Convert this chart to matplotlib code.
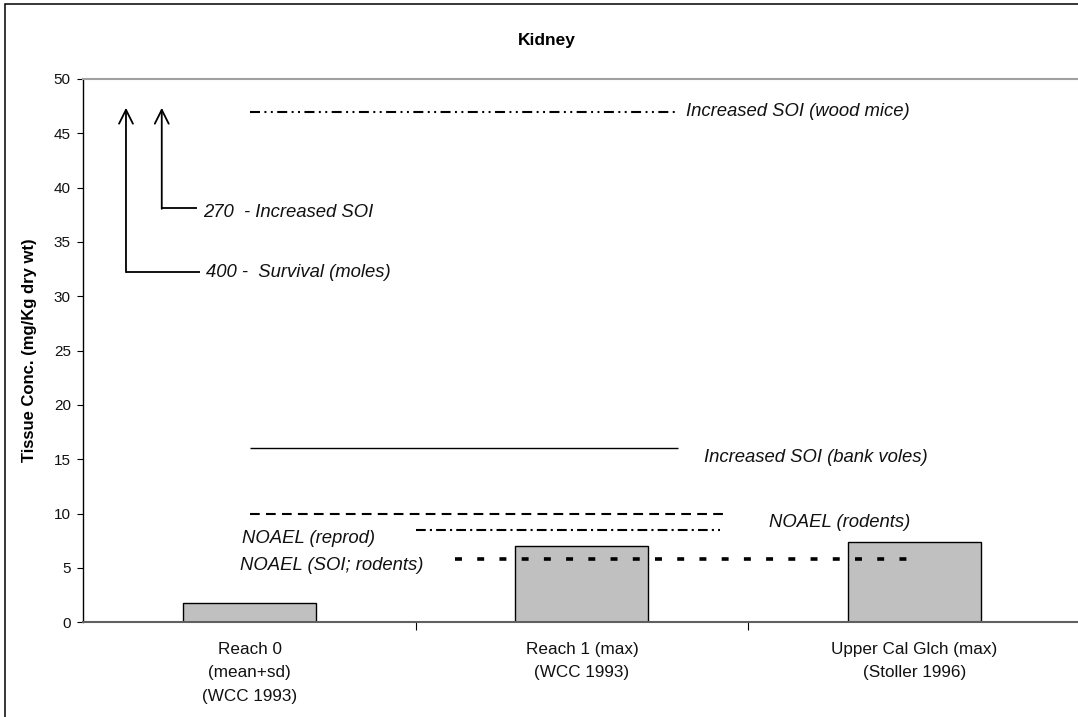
import matplotlib
matplotlib.use("Agg")
import matplotlib.pyplot as plt
from matplotlib.patches import Rectangle

plt.rcParams['font.family'] = ['Liberation Sans', 'DejaVu Sans']
plt.rcParams['lines.scale_dashes'] = False

# Measured kidney concentrations per site
categories = ["Reach 0\n(mean+sd)\n(WCC 1993)",
              "Reach 1 (max)\n(WCC 1993)",
              "Upper Cal Glch (max)\n(Stoller 1996)"]
tissue_conc = [1.75, 7.0, 7.35]

# Effect benchmark levels (mg/Kg dry wt)
benchmark_levels = [47.0, 16.0, 10.0, 8.5, 5.8]
benchmark_labels = ["Increased SOI (wood mice)",
                    "Increased SOI (bank voles)",
                    "NOAEL (reprod)",
                    "NOAEL (rodents)",
                    "NOAEL (SOI; rodents)"]

# Off-scale benchmarks shown as arrows
offscale_labels = ["400 -  Survival (moles)", "270  - Increased SOI"]

y_ticks = list(range(0, 51, 5))

W, H = 1078, 717
fig = plt.figure(figsize=(W / 100, H / 100), dpi=100)

# outer chart border
fig.patches.append(Rectangle((5 / W, -0.2), 1.3, 1.2 - 4 / H, transform=fig.transFigure,
                             fill=False, edgecolor='black', linewidth=1.1, zorder=0))

ax_left, ax_right = 83.3 / W, 1080.6 / W
ax_top, ax_bottom = 1 - 79 / H, 1 - 622.3 / H
ax = fig.add_axes([ax_left, ax_bottom, ax_right - ax_left, ax_top - ax_bottom])

x = list(range(len(categories)))
ax.bar(x, tissue_conc, width=0.4, color='#c0c0c0', edgecolor='black', linewidth=1.0, zorder=2)

ax.set_xlim(-0.5, 2.5)
ax.set_ylim(0, 50)

# benchmark lines: (x start, x end, style, width)
line_specs = [
    (0.0, 1.285, (0, (7.2, 3.2, 1.4, 3.2, 1.4, 3.2)), 1.5),
    (0.0, 1.289, '-', 1.0),
    (0.0, 1.424, (0, (7.0, 4.5)), 1.5),
    (0.5, 1.415, (0, (7.0, 3.0, 1.5, 3.0)), 1.5),
    (0.618, 1.99, (0, (5.0, 11.0)), 2.6),
]
for level, (x0, x1, ls, lw) in zip(benchmark_levels, line_specs):
    ax.plot([x0, x1], [level, level], color='black', linestyle=ls, linewidth=lw,
            solid_capstyle='butt', dash_capstyle='butt', zorder=3)

ann = dict(fontsize=13.3, style='italic', color='#111111', ha='left', va='center')
ax.text(1.313, 46.97, benchmark_labels[0], **ann)
ax.text(1.366, 15.2, benchmark_labels[1], **ann)
ax.text(-0.023, 7.67, benchmark_labels[2], **ann)
ax.text(1.563, 9.23, benchmark_labels[3], **ann)
ax.text(-0.029, 5.21, benchmark_labels[4], **ann)

# arrows for benchmarks far above the axis
arrow_specs = [(-0.3716, 32.27, -0.149, 32.17, -0.131), (-0.264, 38.1, -0.159, 37.67, -0.140)]
for label, (xa, yb, xe, yt, xt) in zip(offscale_labels, arrow_specs):
    ax.plot([xa, xe], [yb, yb], color='black', linewidth=1.3, solid_capstyle='butt', zorder=3)
    ax.annotate('', xy=(xa, 47.35), xytext=(xa, yb - 0.05),
                arrowprops=dict(arrowstyle='->,head_length=1.0,head_width=0.5',
                                color='black', linewidth=1.3, shrinkA=0, shrinkB=0))
    ax.text(xt, yt, label, **ann)

# axes styling
ax.spines['right'].set_visible(False)
ax.spines['top'].set_color('#a0a0a0')
ax.spines['top'].set_linewidth(1.5)
ax.spines['left'].set_color('black')
ax.spines['left'].set_linewidth(1.0)
ax.spines['bottom'].set_color('#606060')
ax.spines['bottom'].set_linewidth(1.5)

ax.set_yticks(y_ticks)
ax.set_yticklabels([str(t) for t in y_ticks], fontsize=11, color='#111111')
ax.tick_params(axis='y', direction='out', length=4, width=0.8, pad=5)

ax.set_xticks(x)
ax.set_xticklabels(categories, fontsize=12.3, color='#111111', linespacing=1.72)
ax.tick_params(axis='x', which='major', length=0, pad=14)
ax.set_xticks([0.5, 1.5], minor=True)
ax.tick_params(axis='x', which='minor', direction='out', length=6, width=0.8, color='black')

ax.set_ylabel("Tissue Conc. (mg/Kg dry wt)", fontsize=12, fontweight='bold', labelpad=12)
fig.text(547 / W, 1 - 41 / H, "Kidney", fontsize=12.5, fontweight='bold', ha='center', va='center')

fig.savefig("out.png", dpi=100)
